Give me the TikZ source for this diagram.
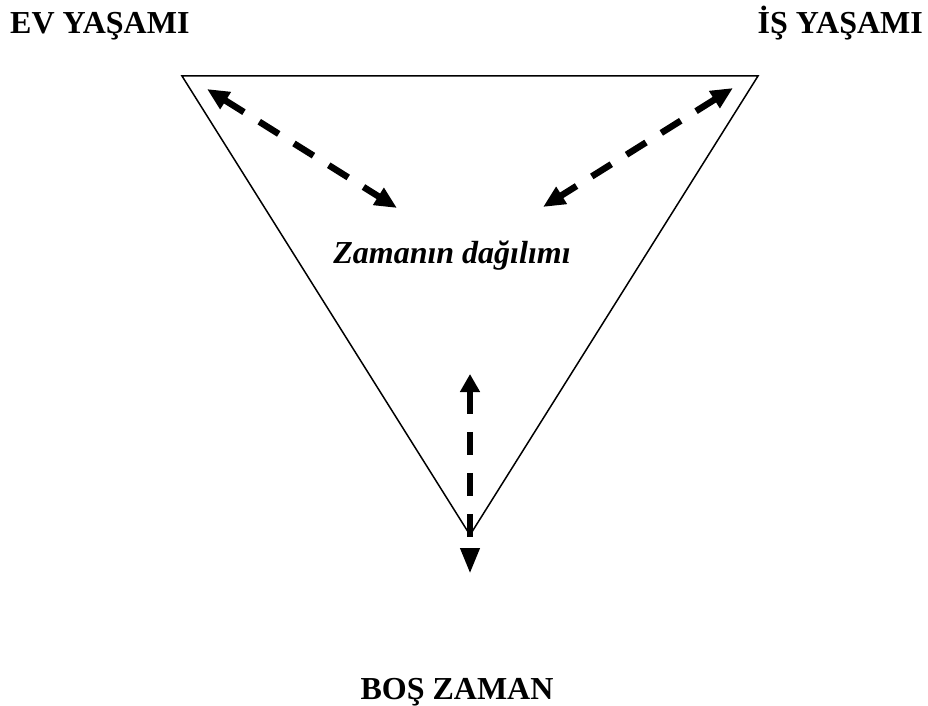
\documentclass[tikz,border=0pt]{standalone}
\usepackage{fontspec}
\setmainfont{Liberation Serif}
\usetikzlibrary{arrows.meta}
\begin{document}
\begin{tikzpicture}[x=1pt,y=-1pt,
  lbl/.style={font=\fontsize{32}{38}\selectfont\bfseries, inner sep=0pt},
  tri/.style={line width=1.5pt, line join=miter},
  darrow/.style={line width=6.5pt, dash pattern=on 23pt off 18pt}
]
\useasboundingbox (0,0) rectangle (928,706);
% triangle corners
\coordinate (tl) at (182,76);
\coordinate (tr) at (758,76);
\coordinate (bt) at (470,535);
\draw[tri] (tl) -- (tr) -- (bt) -- cycle;
% labels
\node[lbl, anchor=base west] (ev) at (10,34) {EV YAŞAMI};
\node[lbl, anchor=base east] (is) at (923,34) {İŞ YAŞAMI};
\node[lbl, anchor=base] (bos) at (457,699) {BOŞ ZAMAN};
\node[lbl, anchor=base, font=\fontsize{32}{38}\selectfont\bfseries\itshape] (zd) at (452,263) {Zamanın dağılımı};
% arrow end points
\coordinate (l1) at (207,89);
\coordinate (l2) at (397,208);
\coordinate (r1) at (733,88);
\coordinate (r2) at (543,207);
\coordinate (v1) at (470,374);
\coordinate (v2) at (470,574);
\draw[darrow, {Triangle[length=22pt,width=19pt]}-{Triangle[length=22pt,width=19pt]}] (l1) -- (l2);
\draw[darrow, {Triangle[length=22pt,width=19pt]}-{Triangle[length=22pt,width=19pt]}] (r1) -- (r2);
\draw[darrow, {Triangle[length=18pt,width=19pt]}-{Triangle[length=26pt,width=18pt]}] (v1) -- (v2);
\end{tikzpicture}
\end{document}
